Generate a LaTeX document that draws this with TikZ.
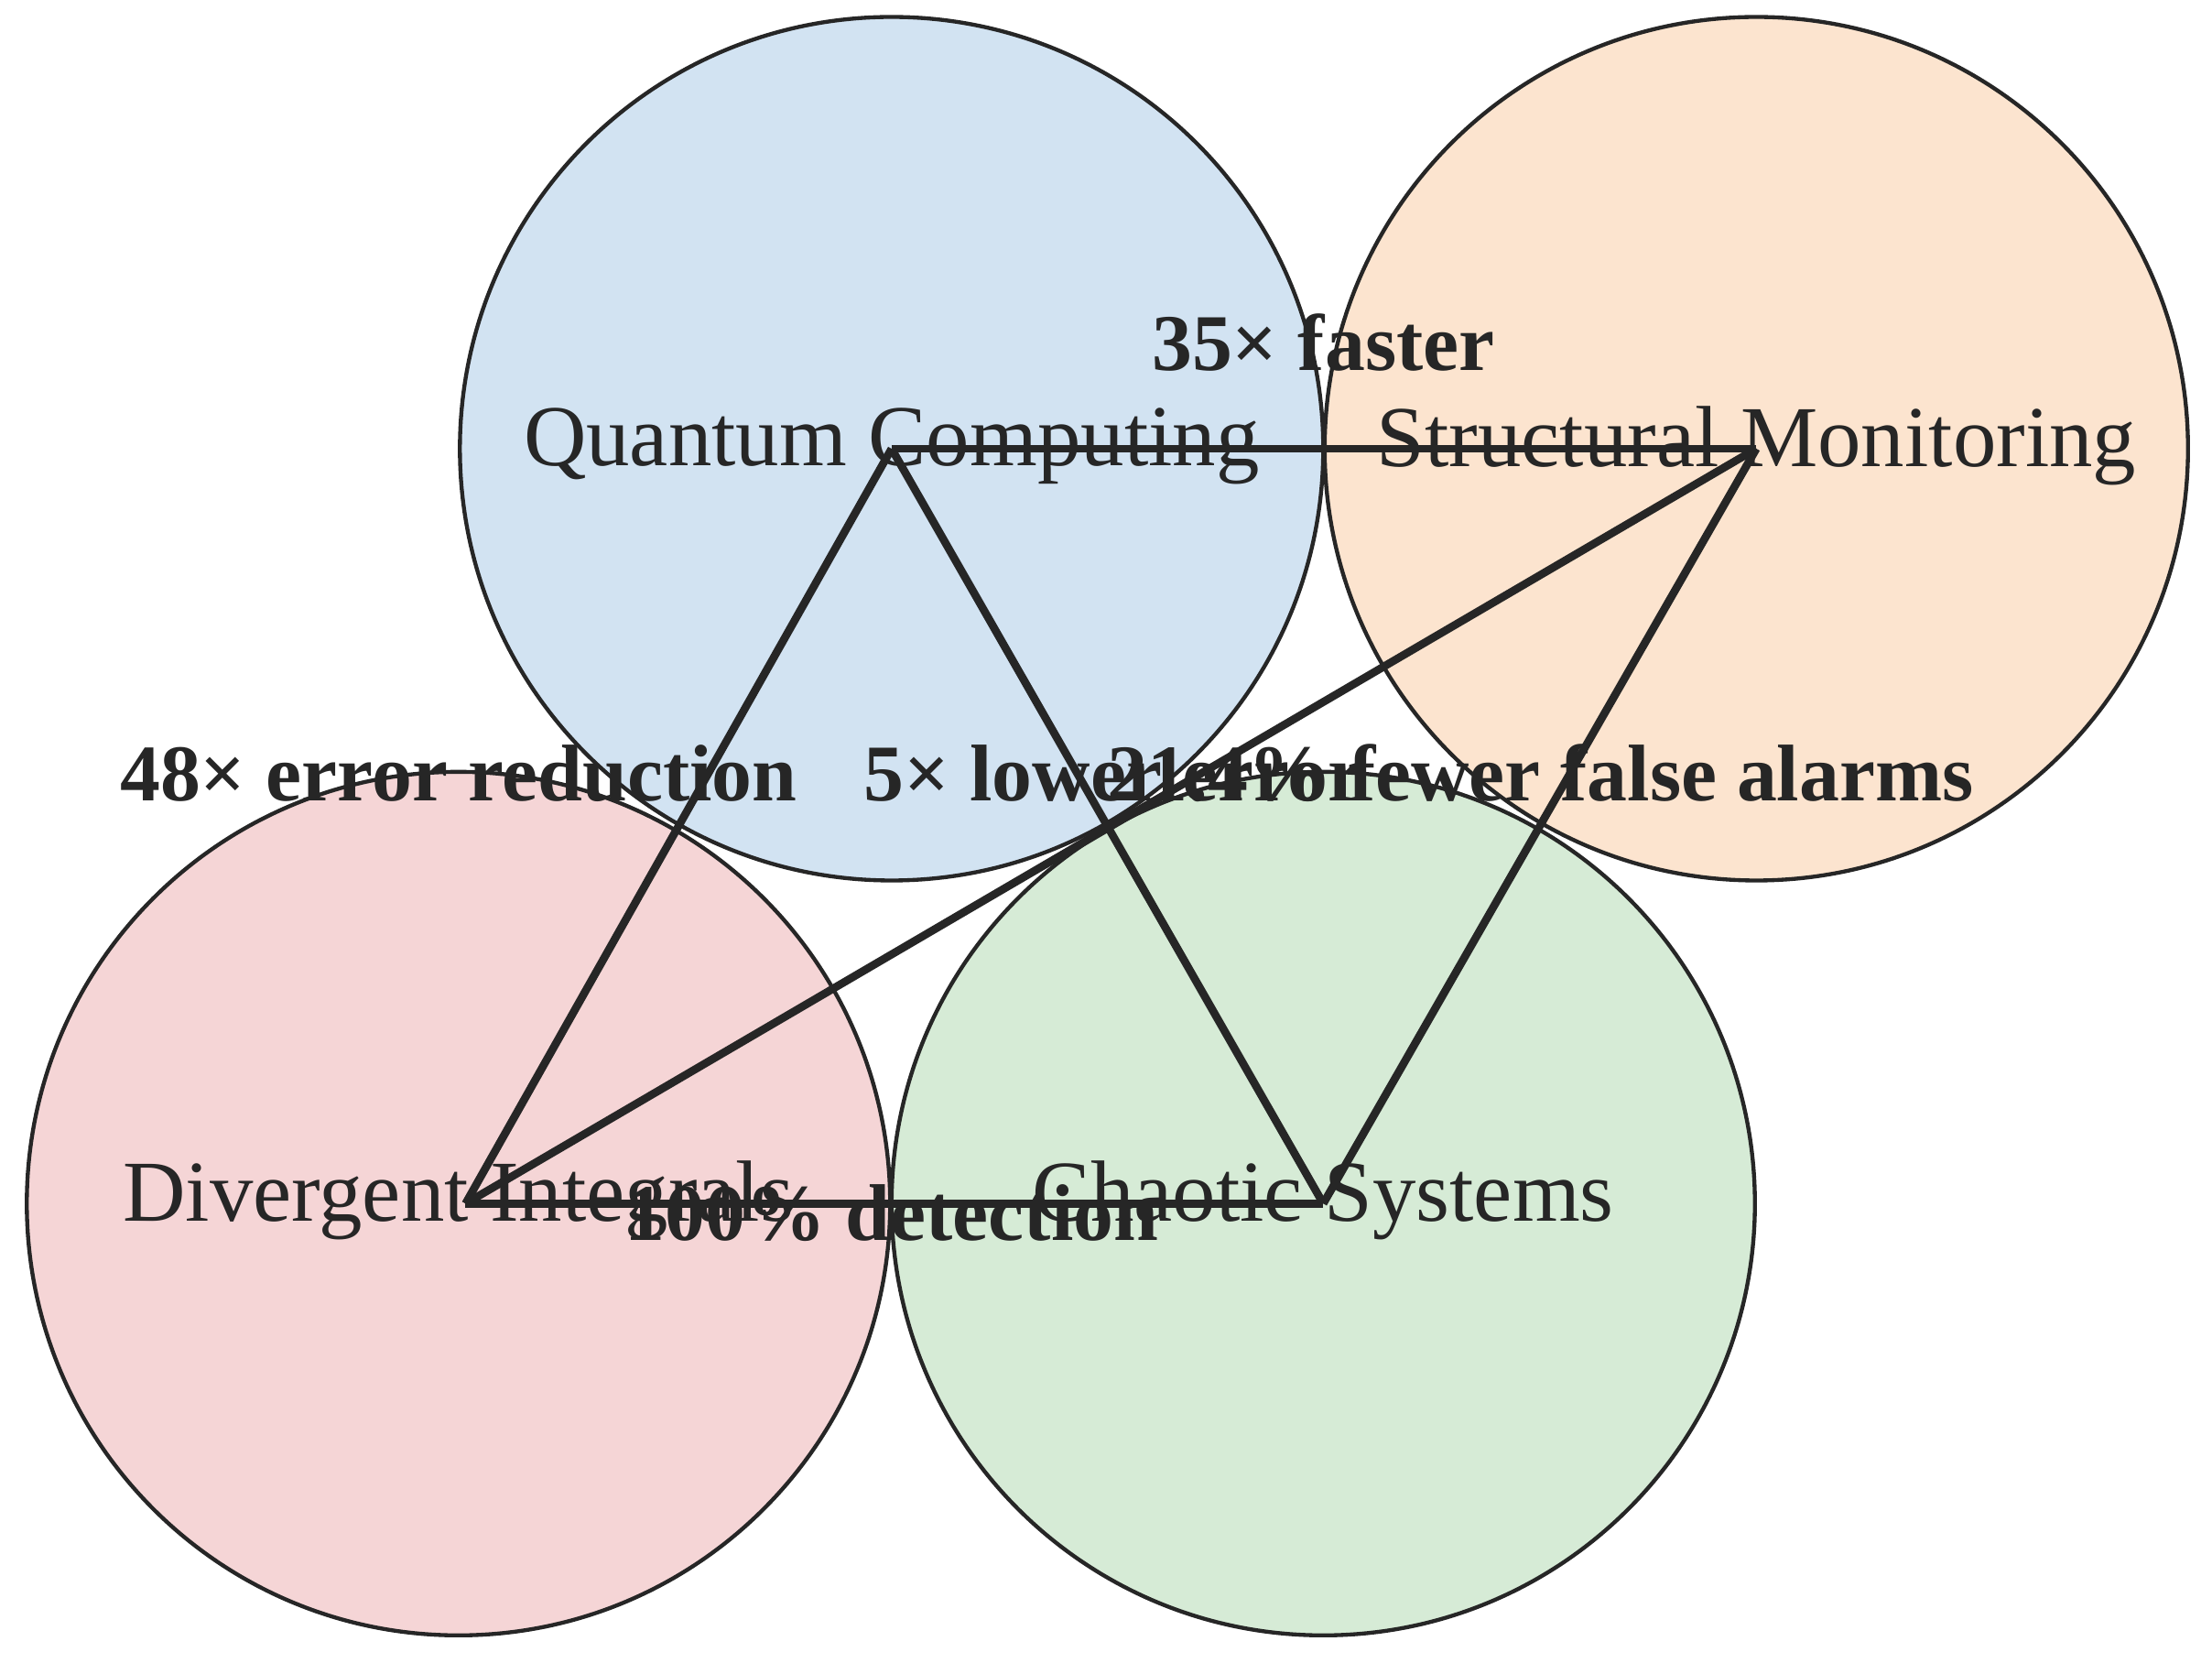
\documentclass[tikz,border=0pt]{standalone}
\usepackage{fontspec}
\setmainfont{Liberation Serif}
\begin{document}
\begin{tikzpicture}[x=0.01cm,y=-0.01cm,
  circ/.style={draw=black!85,line width=0.8pt},
  nlab/.style={font=\fontsize{17.5}{20}\selectfont,text=black!85},
  elab/.style={font=\fontsize{16.2}{19}\selectfont\bfseries,text=black!85},
  conn/.style={draw=black!85,line width=1.6pt}]
\useasboundingbox (0,0) rectangle (1568,1178);
\definecolor{cq}{RGB}{210,227,242}
\definecolor{cs}{RGB}{252,228,207}
\definecolor{cd}{RGB}{245,213,214}
\definecolor{cc}{RGB}{214,235,214}
\fill[cq] (632,318) circle (306);
\fill[cs] (1245,318) circle (306);
\fill[cd] (325,853) circle (306);
\fill[cc] (938,853) circle (306);
\draw[circ] (632,318) circle (306);
\draw[circ] (1245,318) circle (306);
\draw[circ] (325,853) circle (306);
\draw[circ] (938,853) circle (306);
\node[nlab] (tq) at (632,316) {Quantum Computing};
\node[nlab] (ts) at (1245,316) {Structural Monitoring};
\node[nlab] (td) at (325,851) {Divergent Integrals};
\node[nlab] (tc) at (938,851) {Chaotic Systems};
\coordinate (q) at (632,318);
\coordinate (s) at (1245,318);
\coordinate (d) at (330,853);
\coordinate (c) at (938,853);
\draw[conn] (q) -- (s);
\draw[conn] (q) -- (d);
\draw[conn] (q) -- (c);
\draw[conn] (d) -- (s);
\draw[conn] (s) -- (c);
\draw[conn] (d) -- (c);
\node[elab] (l1) at (938,243) {35× faster};
\node[elab] (l2) at (325,548) {48× error reduction};
\node[elab,anchor=west] (l3) at (600,548) {5× lower error};
\node[elab] (l4) at (1092,548) {21.4\% fewer false alarms};
\node[elab] (l5) at (632,860) {100\% detection};
\end{tikzpicture}
\end{document}
